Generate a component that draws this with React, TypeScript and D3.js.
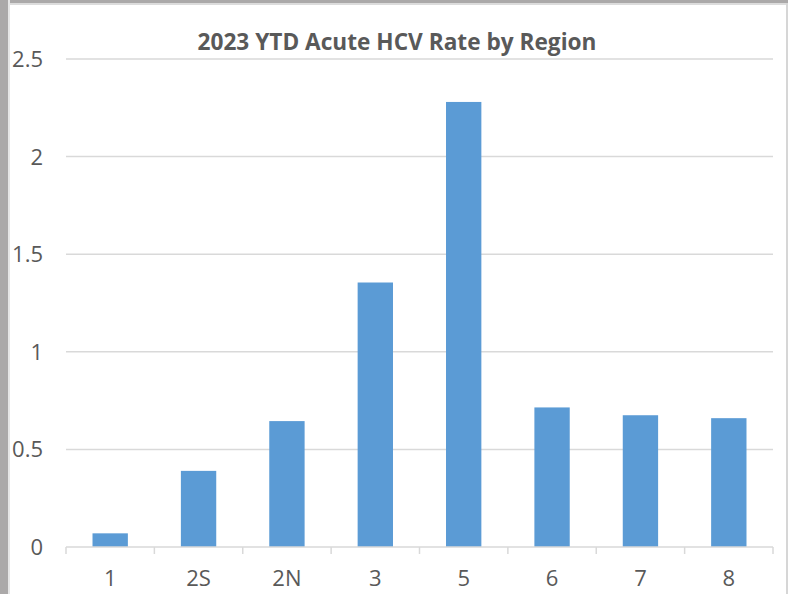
import React from 'react';
import * as d3 from 'd3';

const regions = ['1', '2S', '2N', '3', '5', '6', '7', '8'];
const rates = [0.07, 0.39, 0.645, 1.355, 2.28, 0.715, 0.675, 0.66];
const yTicks = [0, 0.5, 1, 1.5, 2, 2.5];

const App: React.FC = () => {
  const width = 788;
  const height = 594;
  const margin = { top: 59, right: 15, bottom: 47, left: 66 };
  const innerW = width - margin.left - margin.right;
  const innerH = height - margin.top - margin.bottom;

  const x = d3.scaleBand().domain(regions).range([0, innerW]).paddingInner(0).paddingOuter(0);
  const y = d3.scaleLinear().domain([0, 2.5]).range([innerH, 0]);
  const barW = x.bandwidth() / 2.5;
  const textColor = '#595959';
  const font = '"Open Sans", "Noto Sans", sans-serif';

  return (
    <div style={{ position: 'fixed', left: 0, top: 0 }}>
      <svg width={width} height={height} style={{ display: 'block', background: '#fff' }}>
        {/* frame */}
        <rect x={0} y={0} width={width} height={3} fill="#ABA9A9" />
        <rect x={0} y={3} width={width} height={2} fill="#DCDCDC" />
        <rect x={0} y={0} width={8} height={height} fill="#ABA9A9" />
        <rect x={8} y={0} width={2} height={height} fill="#E6E6E6" />
        <rect x={786} y={3} width={2} height={height} fill="#D6D6D6" />

        <text
          x={397}
          y={50}
          textAnchor="middle"
          fontFamily={font}
          fontWeight="bold"
          fontSize={23}
          textLength={399}
          lengthAdjust="spacingAndGlyphs"
          fill={textColor}
        >
          2023 YTD Acute HCV Rate by Region
        </text>

        <g transform={`translate(${margin.left},${margin.top})`}>
          {yTicks.map((t) => (
            <g key={t}>
              {t > 0 && (
                <line x1={0} x2={innerW} y1={y(t)} y2={y(t)} stroke="#D9D9D9" strokeWidth={1.5} />
              )}
              <text
                x={-23}
                y={y(t) + 8}
                textAnchor="end"
                fontFamily={font}
                fontSize={22}
                fill={textColor}
              >
                {t}
              </text>
            </g>
          ))}

          {regions.map((r, i) => (
            <rect
              key={r}
              x={(x(r) as number) + (x.bandwidth() - barW) / 2}
              y={y(rates[i])}
              width={barW}
              height={innerH - y(rates[i])}
              fill="#5B9BD5"
            />
          ))}

          {/* x axis */}
          <line x1={0} x2={innerW} y1={innerH} y2={innerH} stroke="#D9D9D9" strokeWidth={1.5} />
          {[...regions.map((r) => x(r) as number), innerW].map((tx, i) => (
            <line key={i} x1={tx} x2={tx} y1={innerH} y2={innerH + 7} stroke="#D9D9D9" strokeWidth={1.5} />
          ))}
          {regions.map((r) => (
            <text
              key={r}
              x={(x(r) as number) + x.bandwidth() / 2}
              y={innerH + 39}
              textAnchor="middle"
              fontFamily={font}
              fontSize={22}
              fill={textColor}
            >
              {r}
            </text>
          ))}
        </g>
      </svg>
    </div>
  );
};

export default App;
